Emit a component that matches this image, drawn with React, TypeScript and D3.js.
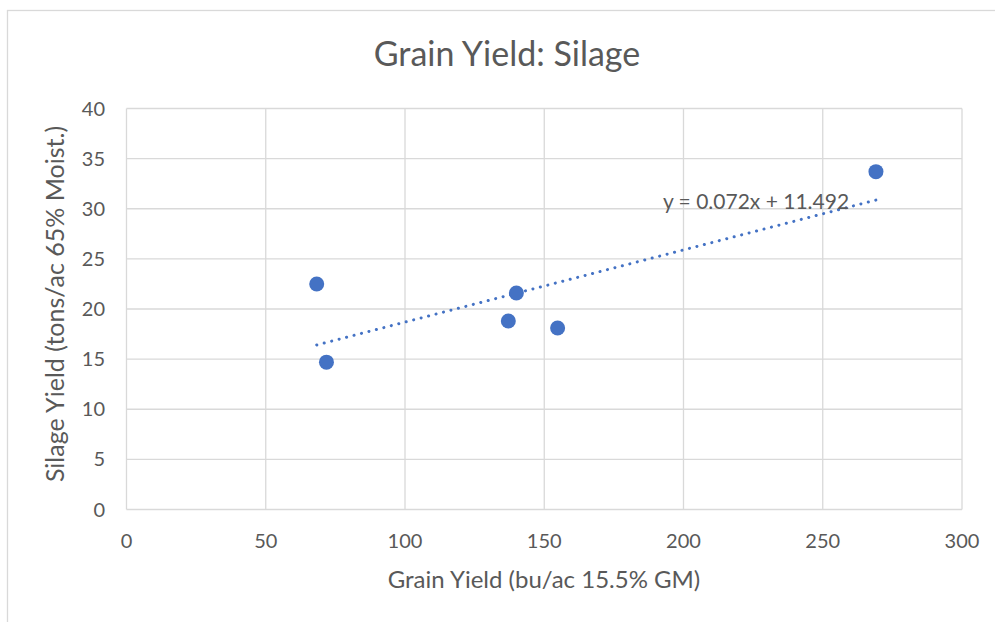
import React, { useEffect, useRef } from 'react';
import * as d3 from 'd3';

const grainYield = [68.3, 71.8, 137.1, 140.0, 154.8, 269.1];
const silageYield = [22.5, 14.7, 18.8, 21.6, 18.1, 33.7];
const xTicks = [0, 50, 100, 150, 200, 250, 300];
const yTicks = [0, 5, 10, 15, 20, 25, 30, 35, 40];
const trendSlope = 0.072;
const trendIntercept = 11.492;

const chartTitle = 'Grain Yield: Silage';
const xLabel = 'Grain Yield (bu/ac 15.5% GM)';
const yLabel = 'Silage Yield (tons/ac 65% Moist.)';

export default function App() {
  const ref = useRef<SVGSVGElement>(null);

  useEffect(() => {
    const svg = d3.select(ref.current);
    svg.selectAll('*').remove();

    const font = 'Lato, "Open Sans", sans-serif';
    const grey = '#595959';
    const grid = '#d9d9d9';
    const margin = { left: 126.5, top: 108.5, right: 962, bottom: 509.5 };

    // chart area frame (runs past the window on right and bottom)
    svg.append('rect')
      .attr('x', 7.5).attr('y', 10.5)
      .attr('width', 1000).attr('height', 640)
      .attr('fill', 'white').attr('stroke', grid).attr('stroke-width', 1.3);

    const x = d3.scaleLinear().domain([0, 300]).range([margin.left, margin.right]);
    const y = d3.scaleLinear().domain([0, 40]).range([margin.bottom, margin.top]);

    const g = svg.append('g');

    // gridlines
    g.selectAll('.vgrid').data(xTicks).enter().append('line')
      .attr('x1', d => x(d)).attr('x2', d => x(d))
      .attr('y1', y(0)).attr('y2', y(40))
      .attr('stroke', grid).attr('stroke-width', 1.3);
    g.selectAll('.hgrid').data(yTicks).enter().append('line')
      .attr('x1', x(0)).attr('x2', x(300))
      .attr('y1', d => y(d)).attr('y2', d => y(d))
      .attr('stroke', grid).attr('stroke-width', 1.3);

    // tick labels
    g.selectAll('.xt').data(xTicks).enter().append('text')
      .text(d => d)
      .attr('x', d => x(d)).attr('y', 548)
      .attr('text-anchor', 'middle')
      .attr('font-family', font).attr('font-size', 20).attr('fill', grey);
    g.selectAll('.yt').data(yTicks).enter().append('text')
      .text(d => d)
      .attr('x', 105).attr('y', d => y(d) + 7)
      .attr('text-anchor', 'end')
      .attr('font-family', font).attr('font-size', 20).attr('fill', grey);

    // trendline
    const xMin = d3.min(grainYield) as number;
    const xMax = d3.max(grainYield) as number;
    g.append('line')
      .attr('x1', x(xMin)).attr('y1', y(trendSlope * xMin + trendIntercept))
      .attr('x2', x(xMax)).attr('y2', y(trendSlope * xMax + trendIntercept))
      .attr('stroke', '#4472c4').attr('stroke-width', 3)
      .attr('stroke-linecap', 'round')
      .attr('stroke-dasharray', '0.1 7.6');

    // points
    g.selectAll('circle').data(grainYield).enter().append('circle')
      .attr('cx', d => x(d))
      .attr('cy', (d, i) => y(silageYield[i]))
      .attr('r', 7.5)
      .attr('fill', '#4472c4');

    // trend equation
    g.append('text')
      .text(`y = ${trendSlope}x + ${trendIntercept}`)
      .attr('x', 756).attr('y', 209)
      .attr('text-anchor', 'middle')
      .attr('font-family', font).attr('font-size', 21).attr('fill', grey);

    // titles
    svg.append('text')
      .text(chartTitle)
      .attr('x', 507).attr('y', 66)
      .attr('text-anchor', 'middle')
      .attr('font-family', font).attr('font-size', 34).attr('fill', grey);
    svg.append('text')
      .text(xLabel)
      .attr('x', 544).attr('y', 588)
      .attr('text-anchor', 'middle')
      .attr('font-family', font).attr('font-size', 24).attr('fill', grey);
    svg.append('text')
      .text(yLabel)
      .attr('text-anchor', 'middle')
      .attr('transform', 'translate(64,304) rotate(-90)')
      .attr('font-family', font).attr('font-size', 25).attr('fill', grey);
  }, []);

  return (
    <svg ref={ref} width={995} height={622}
      style={{ position: 'absolute', left: 0, top: 0, display: 'block' }} />
  );
}
